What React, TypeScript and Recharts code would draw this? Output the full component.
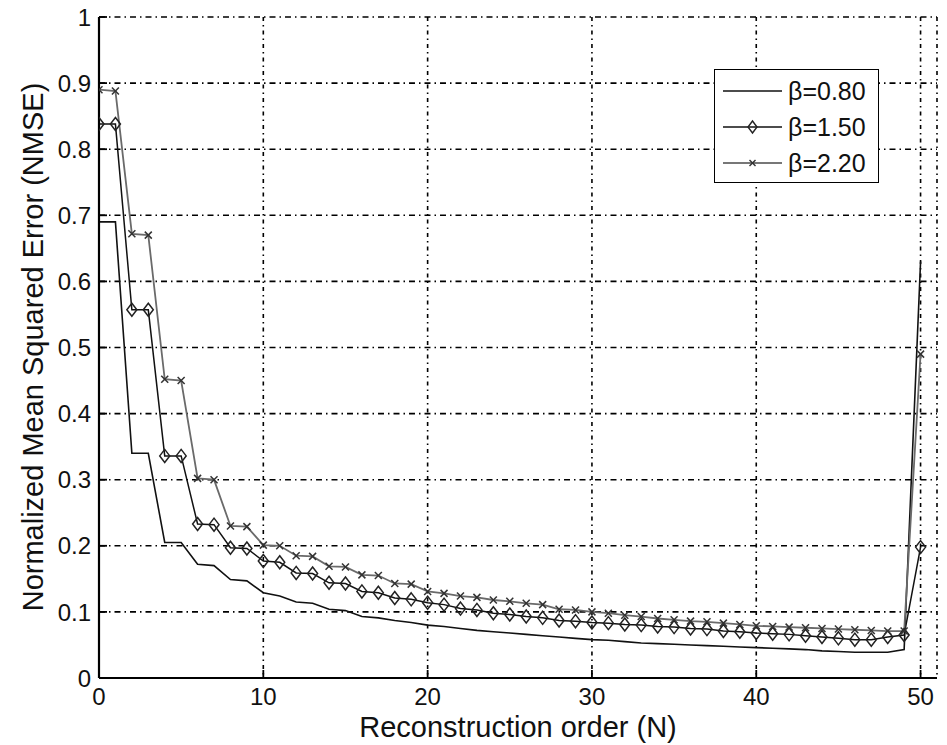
import React from 'react';
import { LineChart, Line, XAxis, YAxis, CartesianGrid, Legend, Label } from 'recharts';

const orders = [0, 1, 2, 3, 4, 5, 6, 7, 8, 9, 10, 11, 12, 13, 14, 15, 16, 17, 18, 19, 20, 21, 22, 23, 24, 25, 26, 27, 28, 29, 30, 31, 32, 33, 34, 35, 36, 37, 38, 39, 40, 41, 42, 43, 44, 45, 46, 47, 48, 49, 50];

const beta080 = [0.69, 0.69, 0.34, 0.34, 0.205, 0.205, 0.172, 0.170, 0.149, 0.147, 0.129, 0.124, 0.115, 0.113, 0.104, 0.102, 0.093, 0.091, 0.087, 0.084, 0.080, 0.078, 0.075, 0.072, 0.070, 0.068, 0.066, 0.064, 0.062, 0.060, 0.058, 0.057, 0.055, 0.053, 0.052, 0.051, 0.050, 0.049, 0.048, 0.047, 0.046, 0.045, 0.044, 0.043, 0.041, 0.040, 0.039, 0.039, 0.039, 0.043, 0.63];

const beta150 = [0.838, 0.838, 0.557, 0.557, 0.336, 0.336, 0.233, 0.232, 0.197, 0.196, 0.177, 0.175, 0.159, 0.158, 0.144, 0.143, 0.131, 0.129, 0.121, 0.119, 0.114, 0.111, 0.105, 0.103, 0.098, 0.096, 0.093, 0.091, 0.087, 0.086, 0.084, 0.083, 0.081, 0.080, 0.078, 0.077, 0.075, 0.074, 0.071, 0.070, 0.068, 0.067, 0.066, 0.064, 0.062, 0.060, 0.058, 0.058, 0.062, 0.065, 0.198];

const beta220 = [0.890, 0.888, 0.672, 0.670, 0.452, 0.450, 0.302, 0.300, 0.230, 0.229, 0.201, 0.200, 0.185, 0.184, 0.169, 0.168, 0.156, 0.155, 0.143, 0.142, 0.131, 0.128, 0.124, 0.122, 0.118, 0.116, 0.113, 0.111, 0.104, 0.103, 0.100, 0.098, 0.095, 0.093, 0.090, 0.088, 0.086, 0.085, 0.083, 0.081, 0.079, 0.078, 0.077, 0.076, 0.075, 0.074, 0.073, 0.072, 0.071, 0.071, 0.49];

const xTicks = [0, 10, 20, 30, 40, 50];
const yTicks = [0, 0.1, 0.2, 0.3, 0.4, 0.5, 0.6, 0.7, 0.8, 0.9, 1];
const seriesNames = ['\u03b2=0.80', '\u03b2=1.50', '\u03b2=2.20'];

const rows = orders.map((n, i) => ({ n, b080: beta080[i], b150: beta150[i], b220: beta220[i] }));

const FONT = '"Liberation Sans", Arial, Helvetica, sans-serif';
const TICK_LEN = 8;
const X_MARGIN = 10;
const Y_MARGIN = 8;

const fmtY = (v: number) => (v === 0 ? '0' : v === 1 ? '1' : String(Math.round(v * 10) / 10));

const BottomTick = (props: any) => {
  const { x, y, payload } = props;
  const axisY = y - X_MARGIN;
  return (
    <g>
      <line x1={x} x2={x} y1={axisY} y2={axisY - TICK_LEN} stroke="#000" strokeWidth={1.8} />
      <text x={x} y={y} dy="0.71em" textAnchor="middle" fontSize={24} fontFamily={FONT} fill="#111">
        {payload.value}
      </text>
    </g>
  );
};

const LeftTick = (props: any) => {
  const { x, y, payload } = props;
  const axisX = x + Y_MARGIN;
  return (
    <g>
      <line x1={axisX} x2={axisX + TICK_LEN} y1={y} y2={y} stroke="#000" strokeWidth={1.8} />
      <text x={x} y={y} dy="0.36em" textAnchor="end" fontSize={24} fontFamily={FONT} fill="#111">
        {fmtY(payload.value)}
      </text>
    </g>
  );
};

const TopTick = (props: any) => {
  const { x, y } = props;
  return <line x1={x} x2={x} y1={y} y2={y + TICK_LEN} stroke="#000" strokeWidth={1.8} />;
};

const RightTick = (props: any) => {
  const { x, y } = props;
  return <line x1={x} x2={x - TICK_LEN} y1={y} y2={y} stroke="#000" strokeWidth={1.8} />;
};

const DiamondDot = (props: any) => {
  const { cx, cy, index } = props;
  if (cx == null || cy == null) return <g key={`d-${index}`} />;
  return (
    <polygon
      key={`d-${index}`}
      points={`${cx},${cy - 6.5} ${cx + 5},${cy} ${cx},${cy + 6.5} ${cx - 5},${cy}`}
      fill="none"
      stroke="#222"
      strokeWidth={1.5}
    />
  );
};

const CrossDot = (props: any) => {
  const { cx, cy, index } = props;
  if (cx == null || cy == null) return <g key={`x-${index}`} />;
  const s = 3.5;
  return (
    <g key={`x-${index}`}>
      <line x1={cx - s} y1={cy - s} x2={cx + s} y2={cy + s} stroke="#333" strokeWidth={1.5} />
      <line x1={cx - s} y1={cy + s} x2={cx + s} y2={cy - s} stroke="#333" strokeWidth={1.5} />
    </g>
  );
};

const LegendBox = () => {
  const samples = [
    { name: seriesNames[0], stroke: '#111', width: 1.6, marker: 'none' },
    { name: seriesNames[1], stroke: '#111', width: 1.6, marker: 'diamond' },
    { name: seriesNames[2], stroke: '#777', width: 2, marker: 'cross' },
  ];
  return (
    <div
      style={{
        width: 165,
        height: 114,
        boxSizing: 'border-box',
        border: '1.5px solid #000',
        background: '#fff',
        paddingTop: 3,
        fontFamily: FONT,
      }}
    >
      {samples.map((s) => (
        <div key={s.name} style={{ display: 'flex', alignItems: 'center', height: 36 }}>
          <svg width={59} height={20} style={{ marginLeft: 8, display: 'block' }}>
            <line x1={0} x2={59} y1={10} y2={10} stroke={s.stroke} strokeWidth={s.width} />
            {s.marker === 'diamond' && (
              <polygon points="29.5,4 34,10 29.5,16 25,10" fill="none" stroke="#222" strokeWidth={1.4} />
            )}
            {s.marker === 'cross' && (
              <g>
                <line x1={26.5} y1={7} x2={32.5} y2={13} stroke="#333" strokeWidth={1.4} />
                <line x1={26.5} y1={13} x2={32.5} y2={7} stroke="#333" strokeWidth={1.4} />
              </g>
            )}
          </svg>
          <span style={{ marginLeft: 6, fontSize: 25, color: '#111', lineHeight: '36px' }}>{s.name}</span>
        </div>
      ))}
    </div>
  );
};

export default function App() {
  return (
    <div style={{ position: 'absolute', left: 0, top: 0, width: 947, height: 745, background: '#fff' }}>
      <LineChart width={947} height={745} data={rows} margin={{ top: 17, right: 10, bottom: 27, left: 39 }}>
        <CartesianGrid
          horizontal={false}
          vertical={true}
          stroke="#000"
          strokeWidth={1.6}
          strokeDasharray="4 4 1.5 4"
        />
        <CartesianGrid
          horizontal={true}
          vertical={false}
          stroke="#000"
          strokeWidth={1.6}
          strokeDasharray="6 4 1.5 4"
        />
        <XAxis
          dataKey="n"
          type="number"
          domain={[0, 51]}
          ticks={xTicks}
          allowDataOverflow
          height={40}
          tickSize={0}
          tickMargin={X_MARGIN}
          tick={<BottomTick />}
          axisLine={{ stroke: '#000', strokeWidth: 2.2 }}
          interval={0}
        >
          <Label
            content={() => (
              <text x={518} y={737} textAnchor="middle" fontSize={29} fontFamily={FONT} fill="#111">
                Reconstruction order (N)
              </text>
            )}
          />
        </XAxis>
        <XAxis
          xAxisId="top"
          orientation="top"
          dataKey="n"
          type="number"
          domain={[0, 51]}
          ticks={xTicks}
          allowDataOverflow
          height={0}
          tickSize={0}
          tickMargin={0}
          tick={<TopTick />}
          axisLine={{ stroke: '#000', strokeWidth: 2.2 }}
          interval={0}
        />
        <YAxis
          type="number"
          domain={[0, 1]}
          ticks={yTicks}
          allowDataOverflow
          width={60}
          tickSize={0}
          tickMargin={Y_MARGIN}
          tick={<LeftTick />}
          axisLine={{ stroke: '#000', strokeWidth: 2.2 }}
          interval={0}
        >
          <Label
            content={() => (
              <text
                x={43}
                y={347}
                transform="rotate(-90 43 347)"
                textAnchor="middle"
                fontSize={29}
                fontFamily={FONT}
                fill="#111"
              >
                Normalized Mean Squared Error (NMSE)
              </text>
            )}
          />
        </YAxis>
        <YAxis
          yAxisId="right"
          orientation="right"
          type="number"
          domain={[0, 1]}
          ticks={yTicks}
          allowDataOverflow
          width={0}
          tickSize={0}
          tickMargin={0}
          tick={<RightTick />}
          axisLine={{ stroke: '#000', strokeWidth: 2.2 }}
          interval={0}
        />
        <Legend
          layout="horizontal"
          verticalAlign="middle"
          align="center"
          content={() => <LegendBox />}
          wrapperStyle={{ position: 'absolute', left: 714, top: 69, width: 165, height: 114 }}
        />
        <Line
          name={seriesNames[0]}
          dataKey="b080"
          type="linear"
          stroke="#111"
          strokeWidth={1.6}
          dot={false}
          activeDot={false}
          isAnimationActive={false}
        />
        <Line
          name={seriesNames[1]}
          dataKey="b150"
          type="linear"
          stroke="#111"
          strokeWidth={1.5}
          dot={(p: any) => <DiamondDot {...p} key={`d-${p.index}`} />}
          activeDot={false}
          isAnimationActive={false}
        />
        <Line
          name={seriesNames[2]}
          dataKey="b220"
          type="linear"
          stroke="#6a6a6a"
          strokeWidth={1.8}
          dot={(p: any) => <CrossDot {...p} key={`x-${p.index}`} />}
          activeDot={false}
          isAnimationActive={false}
        />
      </LineChart>
    </div>
  );
}
